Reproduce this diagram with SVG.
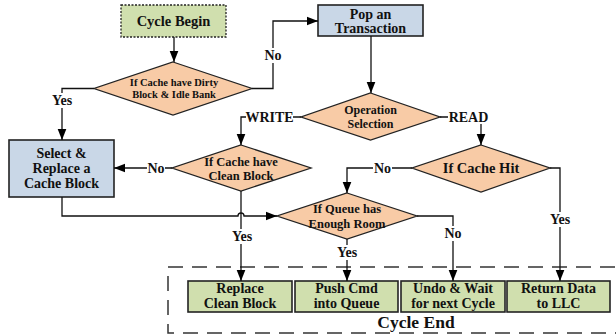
<svg xmlns="http://www.w3.org/2000/svg" width="616" height="335" viewBox="0 0 616 335">
  <style>
    text { font-family: "Liberation Serif", "Times New Roman", serif; font-weight: bold; fill: #111; text-anchor: middle; }
    .dia { fill: #f8cba6; stroke: #222; stroke-width: 1.3; }
    .blue { fill: #c9d7e7; stroke: #222; stroke-width: 1.6; }
    .green { fill: #d0dfae; stroke: #222; stroke-width: 1.6; }
    .start { fill: #d0dfae; stroke: #222; stroke-width: 1.3; stroke-dasharray: 2 1.5; }
    .wire { fill: none; stroke: #111; stroke-width: 1.3; }
    .lbl { font-size: 14px; }
    .bg { fill: #fff; }
    .frame { fill: none; stroke: #333; stroke-width: 1.5; stroke-dasharray: 15 9; }
  </style>
  <defs>
    <marker id="arrow" markerUnits="userSpaceOnUse" markerWidth="11" markerHeight="14" refX="14" refY="5.5" orient="auto" viewBox="0 0 14 11">
      <path d="M0 0 L14 5.5 L0 11 Z" fill="#000"/>
    </marker>
  </defs>

  <!-- dashed end-of-cycle frame -->
  <g id="cycle-end">
    <rect class="frame" x="168" y="267" width="462" height="66"/>
    <text x="416" y="328" style="font-size:17.5px">Cycle End</text>
  </g>

  <g id="cycle-begin">
    <rect class="start" x="121" y="5" width="105" height="32"/>
    <text x="173.5" y="26" style="font-size:14.5px">Cycle Begin</text>
  </g>

  <g id="dirty-check">
    <polygon class="dia" points="173,62 252,88.5 173,115 94,88.5"/>
    <text x="174" y="86" style="font-size:10.5px">If Cache have Dirty</text>
    <text x="174" y="97.5" style="font-size:10.5px">Block &amp; Idle Bank</text>
  </g>

  <g id="pop">
    <rect class="blue" x="318" y="5" width="105" height="31"/>
    <text x="370.5" y="18.5" style="font-size:14px">Pop an</text>
    <text x="370.5" y="33" style="font-size:14px">Transaction</text>
  </g>

  <g id="op-select">
    <polygon class="dia" points="370.5,93 440,117 370.5,140 301,117"/>
    <text x="370.5" y="114" style="font-size:12px">Operation</text>
    <text x="370.5" y="127.5" style="font-size:12px">Selection</text>
  </g>

  <g id="select-replace">
    <rect class="blue" x="9" y="140" width="105" height="57"/>
    <text x="61.5" y="158" style="font-size:14px">Select &amp;</text>
    <text x="61.5" y="173" style="font-size:14px">Replace a</text>
    <text x="61.5" y="188" style="font-size:14px">Cache Block</text>
  </g>

  <g id="clean-check">
    <polygon class="dia" points="241,145 311,168 241,191 172,168"/>
    <text x="241" y="165.5" style="font-size:12.5px">If Cache have</text>
    <text x="241" y="179.5" style="font-size:12.5px">Clean Block</text>
  </g>

  <g id="hit-check">
    <polygon class="dia" points="481,145 550,168 481,192 412,168"/>
    <text x="481" y="173" style="font-size:14.5px">If Cache Hit</text>
  </g>

  <g id="queue-check">
    <polygon class="dia" points="347,193 417,216 347,239 277,216"/>
    <text x="347" y="213" style="font-size:12.5px">If Queue has</text>
    <text x="347" y="227.5" style="font-size:12.5px">Enough Room</text>
  </g>

  <g id="replace-clean">
    <rect class="green" x="188" y="281" width="104" height="31"/>
    <text x="240" y="293" style="font-size:14px">Replace</text>
    <text x="240" y="308" style="font-size:14px">Clean Block</text>
  </g>

  <g id="push-cmd">
    <rect class="green" x="295" y="281" width="103" height="31"/>
    <text x="346.5" y="293" style="font-size:14px">Push Cmd</text>
    <text x="346.5" y="308" style="font-size:14px">into Queue</text>
  </g>

  <g id="undo-wait">
    <rect class="green" x="401" y="281" width="104" height="31"/>
    <text x="453" y="293" style="font-size:14px">Undo &amp; Wait</text>
    <text x="453" y="308" style="font-size:14px">for next Cycle</text>
  </g>

  <g id="return-data">
    <rect class="green" x="507" y="281" width="103" height="31"/>
    <text x="558.5" y="293" style="font-size:14px">Return Data</text>
    <text x="558.5" y="308" style="font-size:14px">to LLC</text>
  </g>

  <g id="connectors">
    <path class="wire" d="M174 37 V62" marker-end="url(#arrow)"/>
    <path class="wire" d="M94 88.5 H62 V140" marker-end="url(#arrow)"/>
    <path class="wire" d="M252 88.5 H273 V21 H318" marker-end="url(#arrow)"/>
    <path class="wire" d="M371 36 V93" marker-end="url(#arrow)"/>
    <path class="wire" d="M301 117 H241 V145" marker-end="url(#arrow)"/>
    <path class="wire" d="M440 117 H481 V145" marker-end="url(#arrow)"/>
    <path class="wire" d="M172 168 H114" marker-end="url(#arrow)"/>
    <path class="wire" d="M62 197 V216 H238 A3 3 0 0 1 244 216 H277" marker-end="url(#arrow)"/>
    <path class="wire" d="M241 191 V281" marker-end="url(#arrow)"/>
    <path class="wire" d="M412 168 H347 V193" marker-end="url(#arrow)"/>
    <path class="wire" d="M550 168 H560 V281" marker-end="url(#arrow)"/>
    <path class="wire" d="M417 216 H453 V281" marker-end="url(#arrow)"/>
    <path class="wire" d="M347 239 V281" marker-end="url(#arrow)"/>

    <!-- connector labels on white backing -->
    <rect class="bg" x="51" y="93" width="22" height="15"/>
    <text class="lbl" x="62" y="105">Yes</text>
    <rect class="bg" x="264" y="48" width="18" height="15"/>
    <text class="lbl" x="273" y="60">No</text>
    <rect class="bg" x="246" y="110" width="47" height="14"/>
    <text class="lbl" x="269.5" y="122">WRITE</text>
    <rect class="bg" x="448" y="110" width="41" height="14"/>
    <text class="lbl" x="468.5" y="122">READ</text>
    <rect class="bg" x="147" y="161" width="18" height="14"/>
    <text class="lbl" x="156" y="173">No</text>
    <rect class="bg" x="373" y="161" width="19" height="14"/>
    <text class="lbl" x="382.5" y="173">No</text>
    <rect class="bg" x="231" y="229" width="22" height="15"/>
    <text class="lbl" x="242" y="241">Yes</text>
    <rect class="bg" x="549" y="212" width="22" height="15"/>
    <text class="lbl" x="560" y="224">Yes</text>
    <rect class="bg" x="444" y="226" width="18" height="15"/>
    <text class="lbl" x="453" y="238">No</text>
    <rect class="bg" x="336" y="245" width="22" height="15"/>
    <text class="lbl" x="347" y="257">Yes</text>
  </g>
</svg>
